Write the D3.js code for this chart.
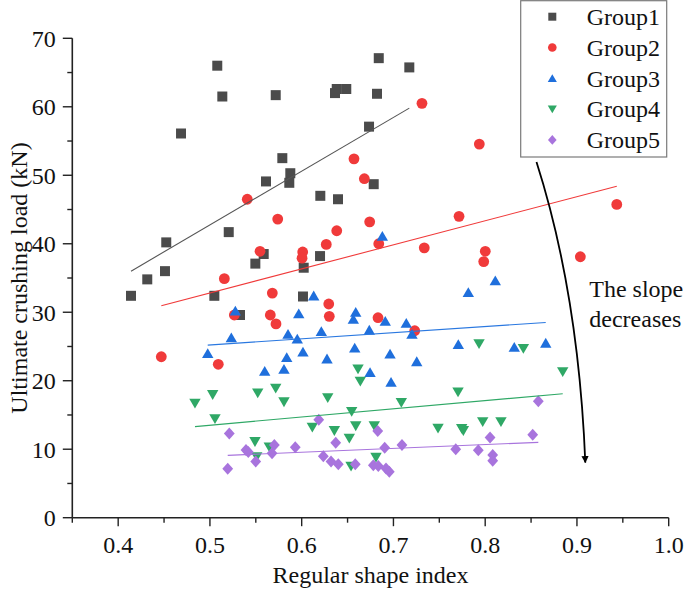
<!DOCTYPE html>
<html>
<head>
<meta charset="utf-8">
<script src="https://cdn.jsdelivr.net/npm/d3@7"></script>
<style>
html,body{margin:0;padding:0;background:#fff;}
svg{display:block;font-family:"Liberation Serif","Times New Roman",serif;}
</style>
</head>
<body>
<svg id="chart" width="685" height="590"></svg>
<script>
// ---- data ----
const groupNames = ["Group1","Group2","Group3","Group4","Group5"];
const xTicks = [0.4,0.5,0.6,0.7,0.8,0.9,1.0];
const yTicks = [0,10,20,30,40,50,60,70];

const group1 = [
  [0.508,66.0],[0.5135,61.5],[0.4685,56.1],[0.684,67.1],[0.7173,65.75],[0.5717,61.7],
  [0.6382,62.6],[0.6363,62.0],[0.6486,62.6],[0.6821,61.9],[0.6734,57.1],[0.5789,52.5],
  [0.5876,50.3],[0.5611,49.1],[0.5865,48.9],[0.6785,48.7],[0.6203,47.0],[0.6396,46.5],
  [0.5205,41.7],[0.4524,40.2],[0.5586,38.5],[0.5495,37.1],[0.6022,36.5],[0.451,36.0],
  [0.4317,34.8],[0.414,32.4],[0.5048,32.4],[0.6014,32.3],[0.5328,29.6],[0.62,38.2]
];
const group2 = [
  [0.7311,60.5],[0.7936,54.55],[0.5407,46.5],[0.657,52.4],[0.6683,49.5],[0.5739,43.6],
  [0.5546,38.9],[0.6011,38.8],[0.6004,37.9],[0.5157,34.9],[0.568,32.8],[0.5266,29.6],
  [0.5658,29.6],[0.572,28.3],[0.447,23.5],[0.5091,22.4],[0.6741,43.2],[0.6382,41.9],
  [0.6268,39.9],[0.684,40.0],[0.7336,39.4],[0.7715,44.0],[0.8001,38.9],[0.7984,37.4],
  [0.6295,31.2],[0.6301,29.4],[0.6832,29.2],[0.7232,27.3],[0.9434,45.75],[0.9037,38.1]
];
const group3 = [
  [0.5277,30.2],[0.5968,29.8],[0.5233,26.3],[0.5851,26.8],[0.5952,26.1],[0.4976,24.0],
  [0.5837,23.4],[0.6014,24.2],[0.5597,21.4],[0.5807,21.7],[0.6131,32.4],[0.6879,41.1],
  [0.7816,32.9],[0.811,34.6],[0.6589,30.0],[0.6563,29.0],[0.6911,28.7],[0.714,28.4],
  [0.6214,27.2],[0.6737,27.4],[0.7202,26.8],[0.6276,23.2],[0.6578,24.8],[0.6963,23.9],
  [0.7254,22.8],[0.7707,25.3],[0.8317,24.9],[0.6745,21.2],[0.6974,19.8],[0.866,25.5]
];
const group4 = [
  [0.4837,16.7],[0.503,17.96],[0.5055,14.45],[0.5521,18.2],[0.5717,18.9],[0.5807,16.9],
  [0.5491,11.1],[0.551,8.9],[0.5647,10.3],[0.6614,21.7],[0.6639,19.9],[0.6284,17.5],
  [0.7086,16.8],[0.7704,18.35],[0.6545,15.5],[0.6116,13.2],[0.6356,12.7],[0.6589,13.4],
  [0.6791,13.4],[0.6519,11.6],[0.7486,13.05],[0.7744,13.0],[0.7762,12.7],[0.7973,14.0],
  [0.8172,14.0],[0.681,8.8],[0.6538,7.5],[0.7933,25.4],[0.8416,24.7],[0.8845,21.3]
];
const group5 = [
  [0.5211,12.3],[0.5194,7.15],[0.5393,9.9],[0.5418,9.6],[0.5499,8.2],[0.5702,10.6],
  [0.5677,9.4],[0.593,10.3],[0.6186,14.3],[0.6236,8.96],[0.632,8.2],[0.6399,7.8],
  [0.6371,10.95],[0.6829,12.65],[0.6584,7.8],[0.6781,7.65],[0.6835,7.55],[0.6905,10.2],
  [0.6919,7.2],[0.6955,6.7],[0.7093,10.6],[0.7679,9.99],[0.7925,9.84],[0.8053,11.7],
  [0.8082,9.15],[0.8082,8.3],[0.8518,12.1],[0.8579,17.0]
];
// linear fit lines: slope, intercept
const fitSlopes = [78.5, 35.15, 8.96, 11.98, 5.61];
const fitIntercepts = [3.5, 15.24, 20.74, 7.51, 6.19];

const colors = ["#4b4b4b","#f03a3a","#1f6fdc","#2fa866","#a874dd"];
const lineColors = ["#555555","#f03a3a","#2a78e0","#2fa866","#a874dd"];
const shapes = ["square","circle","up","down","diamond"];
const seriesData = [group1, group2, group3, group4, group5];

// ---- chart ----
const svg = d3.select("#chart");
const x = d3.scaleLinear().domain([0.35, 1.0]).range([72.3, 668.7]);
const y = d3.scaleLinear().domain([0, 70]).range([517.7, 38.3]);

function symPath(shape){
  switch(shape){
    case "square": return "M-5,-5H5V5H-5Z";
    case "circle": return "M5.4,0A5.4,5.4 0 1,1 -5.4,0A5.4,5.4 0 1,1 5.4,0Z";
    case "up": return "M0,-5.2L5.7,4.6L-5.7,4.6Z";
    case "down": return "M0,5.2L5.7,-4.6L-5.7,-4.6Z";
    case "diamond": return "M0,-6L5.4,0L0,6L-5.4,0Z";
  }
}

// axes
const axisColor = "#222";
const xAxisG = svg.append("g").attr("transform", `translate(0,${y(0)})`);
xAxisG.append("line").attr("x1", x(0.35)).attr("x2", x(1.0)).attr("stroke", axisColor).attr("stroke-width", 1.6);
const xMinor = d3.range(0.35, 1.0, 0.1).map(v => +v.toFixed(2));
xAxisG.selectAll(".xmin").data(xMinor).enter().append("line")
  .attr("x1", d => x(d)).attr("x2", d => x(d)).attr("y1", 0).attr("y2", 5)
  .attr("stroke", axisColor).attr("stroke-width", 1.4);
xAxisG.selectAll(".xmaj").data(xTicks).enter().append("line")
  .attr("x1", d => x(d)).attr("x2", d => x(d)).attr("y1", 0).attr("y2", 8.5)
  .attr("stroke", axisColor).attr("stroke-width", 1.4);
xAxisG.selectAll(".xlab").data(xTicks).enter().append("text")
  .attr("x", d => x(d)).attr("y", 35.6).attr("text-anchor", "middle")
  .attr("font-size", 24).attr("fill", "#111").text(d => d.toFixed(1));

const yAxisG = svg.append("g").attr("transform", `translate(${x(0.35)},0)`);
yAxisG.append("line").attr("y1", y(0)).attr("y2", y(70)).attr("stroke", axisColor).attr("stroke-width", 1.6);
const yMinor = d3.range(5, 70, 10);
yAxisG.selectAll(".ymin").data(yMinor).enter().append("line")
  .attr("y1", d => y(d)).attr("y2", d => y(d)).attr("x1", 0).attr("x2", -5)
  .attr("stroke", axisColor).attr("stroke-width", 1.4);
yAxisG.selectAll(".ymaj").data(yTicks).enter().append("line")
  .attr("y1", d => y(d)).attr("y2", d => y(d)).attr("x1", 0).attr("x2", -9.5)
  .attr("stroke", axisColor).attr("stroke-width", 1.4);
yAxisG.selectAll(".ylab").data(yTicks).enter().append("text")
  .attr("x", -16.5).attr("y", d => y(d) + 8.5).attr("text-anchor", "end")
  .attr("font-size", 24).attr("fill", "#111").text(d => d);

// axis titles
svg.append("text").attr("x", (x(0.35)+x(1.0))/2).attr("y", 583).attr("text-anchor","middle")
  .attr("font-size", 24).attr("fill", "#111").text("Regular shape index");
svg.append("text").attr("transform", `translate(27,${(y(0)+y(70))/2}) rotate(-90)`)
  .attr("text-anchor","middle").attr("font-size", 24).attr("fill", "#111")
  .text("Ultimate crushing load (kN)");

// markers
seriesData.forEach((data, i) => {
  svg.append("g").selectAll("path").data(data).enter().append("path")
    .attr("d", symPath(shapes[i]))
    .attr("transform", d => `translate(${x(d[0])},${y(d[1])})`)
    .attr("fill", colors[i]);
});

// fit lines
seriesData.forEach((data, i) => {
  const [x0, x1] = d3.extent(data, d => d[0]);
  const f = v => fitSlopes[i] * v + fitIntercepts[i];
  svg.append("line")
    .attr("x1", x(x0)).attr("y1", y(f(x0)))
    .attr("x2", x(x1)).attr("y2", y(f(x1)))
    .attr("stroke", lineColors[i]).attr("stroke-width", 1.1);
});

// legend
const lg = svg.append("g");
lg.append("rect").attr("x", 520.7).attr("y", 0.7).attr("width", 146).attr("height", 156.3)
  .attr("fill", "#fff").attr("stroke", "#7a7a7a").attr("stroke-width", 1.2);
groupNames.forEach((name, i) => {
  const cy = 16.7 + i * 30.8;
  lg.append("path").attr("d", symPath(shapes[i]))
    .attr("transform", `translate(552.3,${cy}) scale(0.8)`).attr("fill", colors[i]);
  lg.append("text").attr("x", 586.7).attr("y", cy + 8.3)
    .attr("font-size", 24).attr("fill", "#111").text(name);
});

// annotation arrow
svg.append("defs").append("marker").attr("id","ah").attr("viewBox","0 0 10 10")
  .attr("refX", 9).attr("refY", 5).attr("markerWidth", 4).attr("markerHeight", 4)
  .attr("orient","auto").attr("markerUnits","strokeWidth")
  .append("path").attr("d","M0,0L10,5L0,10Z").attr("fill","#000");
svg.append("path").attr("d","M536.5,162 Q578.5,293.4 585.3,462.5")
  .attr("fill","none").attr("stroke","#000").attr("stroke-width",1.8)
  .attr("marker-end","url(#ah)");
svg.append("text").attr("x", 589.3).attr("y", 296.7).attr("font-size", 24).attr("fill","#111").text("The slope");
svg.append("text").attr("x", 589.3).attr("y", 326.7).attr("font-size", 24).attr("fill","#111").text("decreases");
</script>
</body>
</html>
